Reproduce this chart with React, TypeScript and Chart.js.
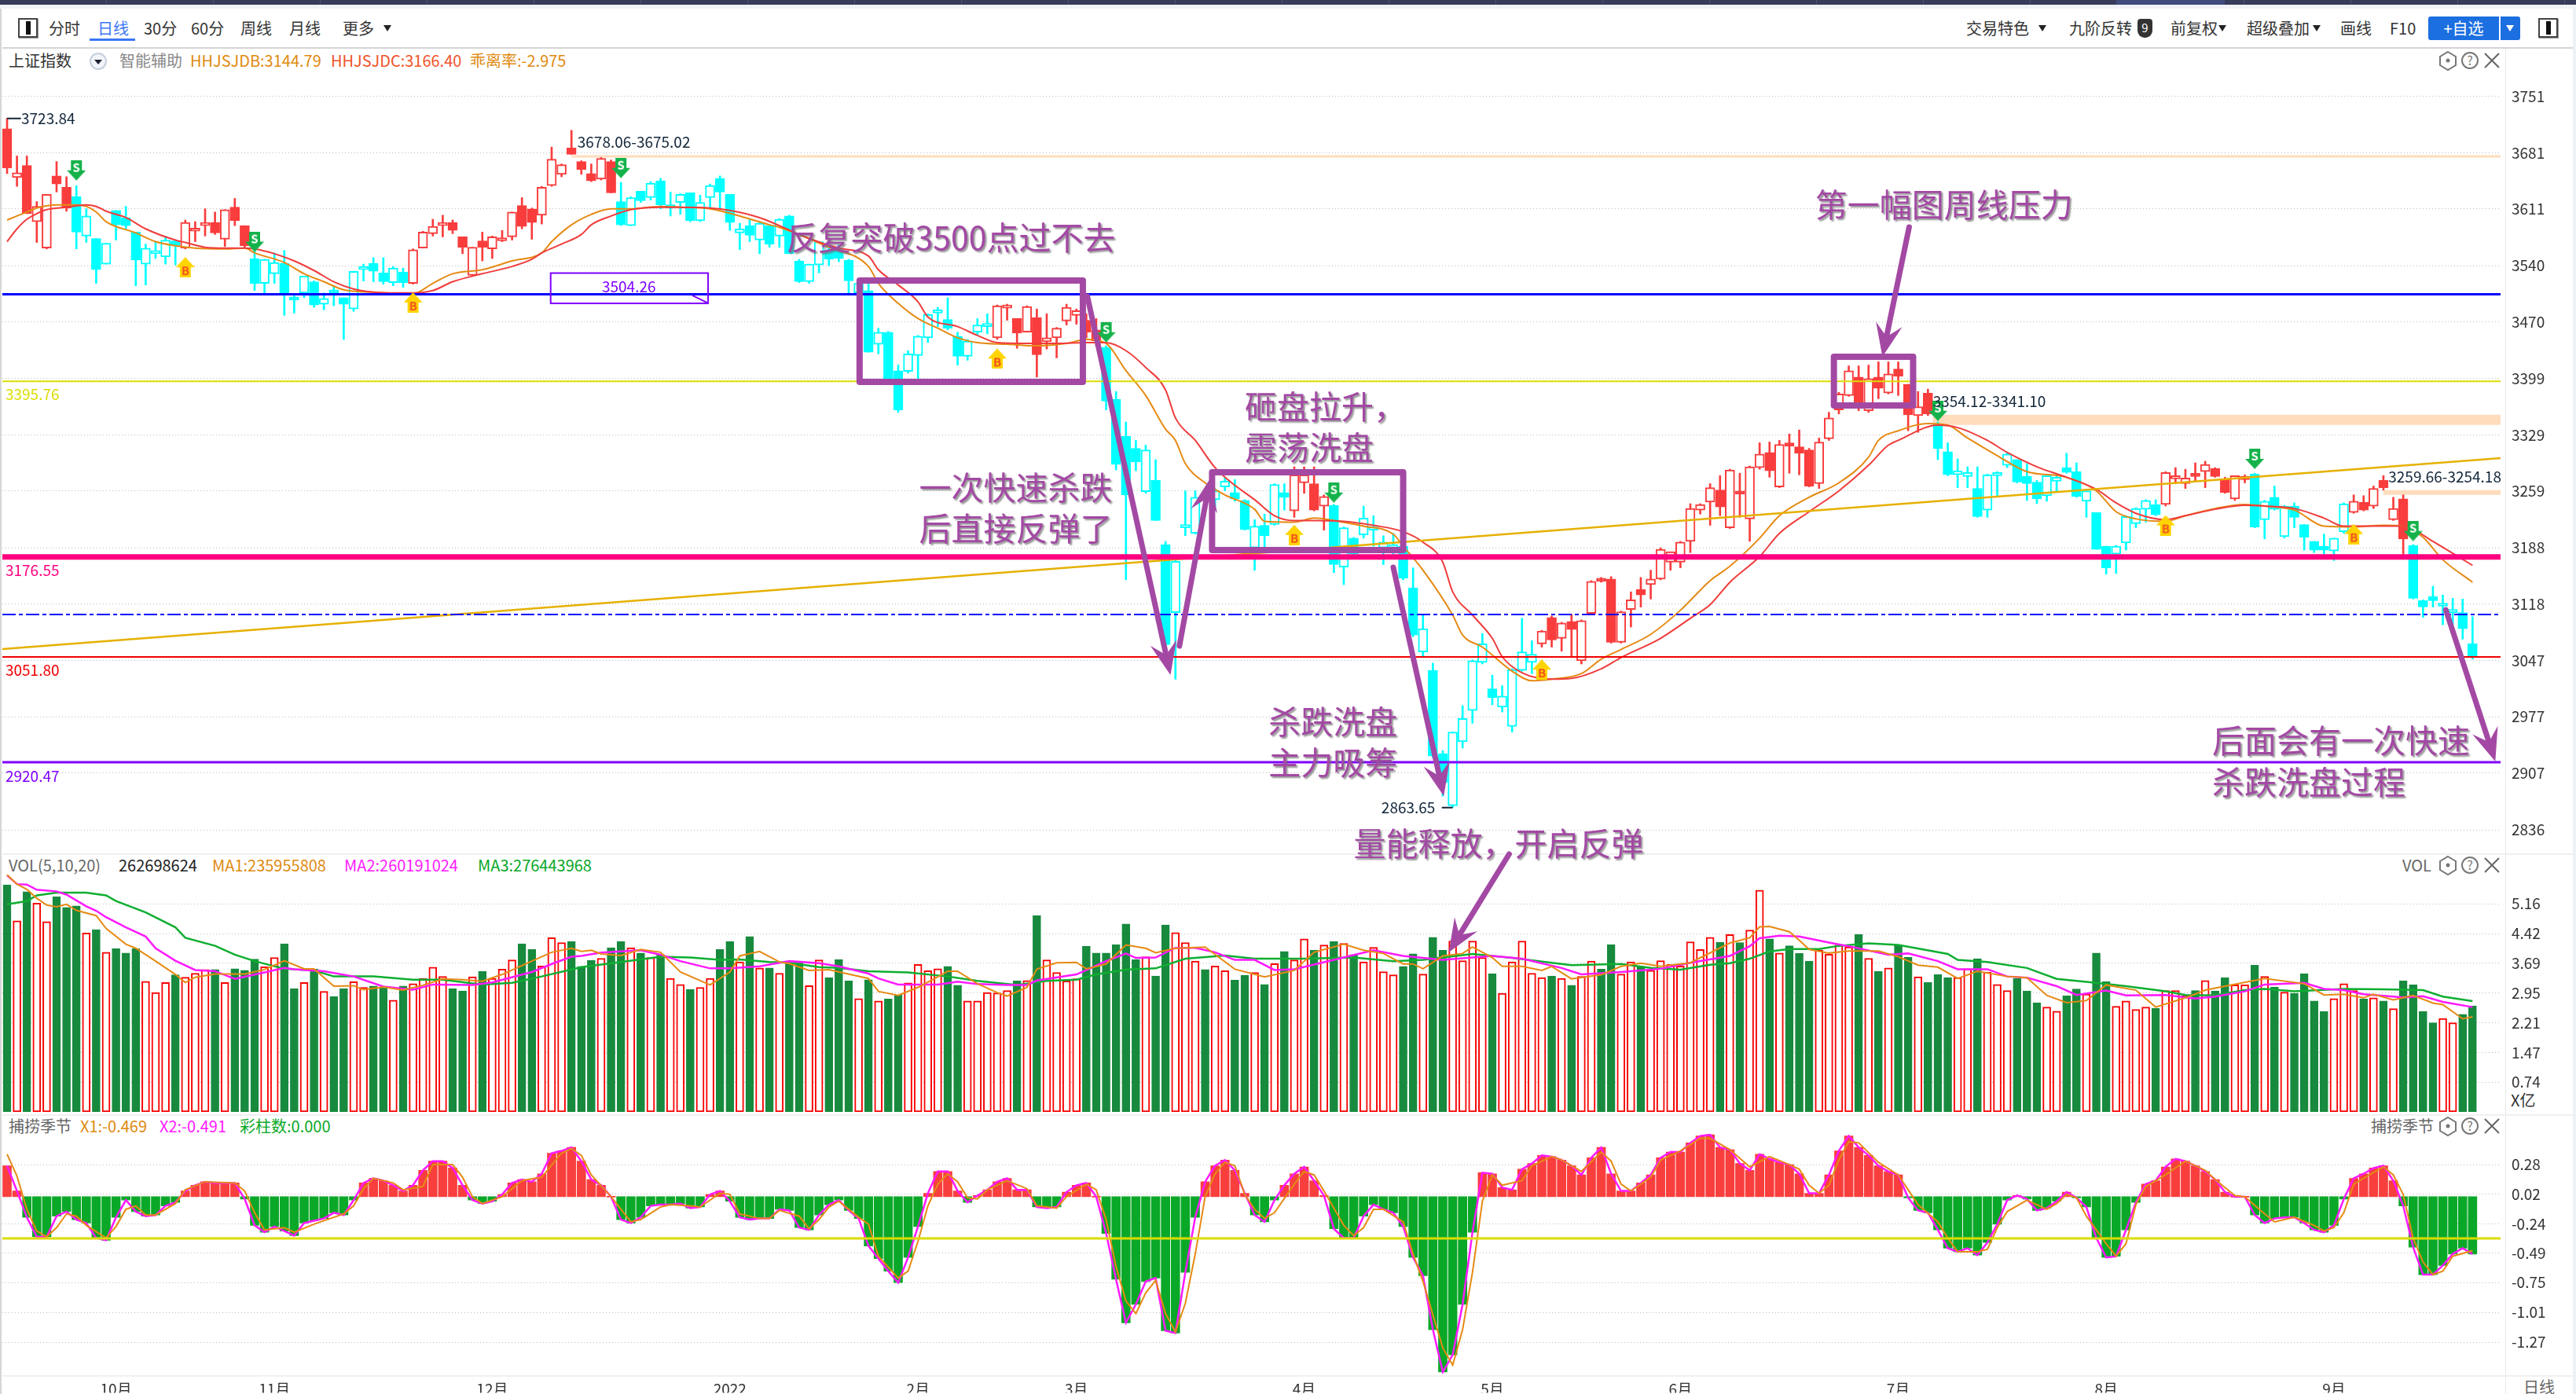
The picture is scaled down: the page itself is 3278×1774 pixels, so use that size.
import React, { useEffect, useRef } from "react";
import { Chart, registerables } from "chart.js";

Chart.register(...registerables);

// ---------- candles ----------
const opens = [
  3711,3650,3665,3595,3562,3652,3638,3626,3577,3574,
  3542,3609,3600,3582,3542,3555,3551,3571,3562,3583,
  3590,3594,3573,3613,3590,3549,3518,3530,3543,3501,
  3506,3520,3492,3507,3500,3486,3535,3543,3531,3519,
  3532,3518,3562,3580,3590,3594,3576,3528,3571,3561,
  3571,3576,3615,3611,3603,3640,3654,3687,3670,3655,
  3648,3670,3620,3590,3633,3625,3646,3612,3619,3631,
  3596,3625,3649,3629,3581,3590,3572,3590,3577,3602,
  3546,3520,3541,3560,3561,3547,3506,3509,3442,3457,
  3409,3408,3428,3450,3481,3473,3452,3427,3457,3464,
  3450,3487,3474,3457,3475,3445,3450,3471,3478,3472,
  3460,3438,3373,3327,3312,3258,3272,3192,3107,3213,
  3206,3253,3248,3264,3257,3247,3188,3216,3217,3257,
  3234,3269,3268,3240,3241,3164,3200,3204,3210,3188,
  3188,3190,3138,3058,3035,2931,2866,2946,2985,3045,
  3012,2989,2965,3035,3045,3068,3101,3075,3096,3047,
  3106,3150,3149,3070,3111,3136,3142,3149,3170,3170,
  3196,3235,3245,3260,3213,3257,3224,3288,3307,3264,
  3316,3314,3310,3268,3324,3360,3378,3401,3359,3401,
  3381,3411,3392,3353,3381,3342,3308,3279,3277,3262,
  3235,3278,3291,3298,3277,3270,3253,3271,3288,3283,
  3246,3232,3190,3180,3194,3218,3236,3242,3242,3274,
  3268,3279,3283,3287,3273,3249,3273,3280,3223,3251,
  3202,3240,3217,3196,3190,3184,3208,3232,3245,3240,
  3272,3223,3249,3191,3122,3127,3115,3107,3107,3068,
];
const closes = [
  3662,3656,3605,3614,3629,3642,3612,3582,3602,3535,
  3568,3591,3590,3547,3562,3558,3572,3565,3594,3587,
  3594,3581,3610,3596,3565,3518,3548,3544,3504,3497,
  3527,3491,3499,3506,3492,3533,3539,3533,3520,3537,
  3519,3560,3582,3589,3592,3584,3563,3563,3563,3576,
  3574,3607,3589,3594,3638,3673,3666,3679,3660,3646,
  3674,3631,3591,3625,3621,3643,3616,3616,3629,3596,
  3619,3640,3632,3594,3586,3578,3593,3567,3598,3555,
  3520,3542,3570,3548,3549,3521,3518,3432,3457,3399,
  3360,3430,3452,3479,3485,3462,3427,3446,3466,3468,
  3490,3491,3456,3489,3429,3450,3462,3488,3484,3457,
  3446,3371,3292,3254,3295,3310,3222,3067,3171,3215,
  3251,3248,3259,3271,3249,3211,3215,3203,3267,3251,
  3279,3279,3235,3252,3167,3213,3180,3225,3211,3195,
  3192,3150,3079,3087,2928,2895,2958,2975,3047,3068,
  3001,3003,3036,3058,3055,3084,3073,3094,3086,3097,
  3146,3146,3070,3108,3123,3129,3149,3186,3183,3195,
  3237,3242,3263,3239,3285,3255,3289,3305,3284,3317,
  3315,3306,3265,3320,3350,3380,3409,3362,3399,3387,
  3405,3402,3354,3364,3355,3312,3279,3284,3282,3227,
  3279,3279,3305,3270,3268,3249,3278,3276,3282,3252,
  3259,3186,3163,3190,3227,3237,3247,3229,3282,3276,
  3275,3277,3292,3277,3257,3278,3275,3214,3246,3236,
  3240,3226,3201,3185,3185,3200,3243,3246,3235,3262,
  3263,3237,3199,3125,3114,3122,3116,3108,3087,3051,
];
const highs = [
  3724,3677,3677,3620,3629,3670,3651,3640,3611,3574,
  3568,3609,3614,3582,3567,3570,3577,3571,3597,3595,
  3611,3607,3610,3624,3590,3560,3548,3556,3559,3504,
  3527,3521,3506,3514,3500,3533,3542,3550,3550,3539,
  3537,3561,3583,3598,3603,3597,3576,3563,3582,3577,
  3584,3607,3625,3612,3639,3688,3667,3709,3671,3667,
  3675,3672,3644,3626,3633,3645,3649,3632,3630,3631,
  3628,3642,3652,3629,3593,3598,3595,3590,3599,3603,
  3548,3542,3570,3565,3566,3548,3520,3518,3462,3458,
  3416,3434,3453,3480,3488,3500,3457,3448,3474,3480,
  3491,3492,3474,3490,3486,3480,3463,3492,3486,3480,
  3474,3440,3383,3345,3322,3316,3298,3196,3173,3259,
  3259,3260,3262,3276,3273,3248,3223,3230,3268,3268,
  3289,3289,3289,3254,3242,3214,3201,3240,3228,3203,
  3206,3191,3163,3104,3044,2935,2958,2991,3048,3081,
  3029,3016,3037,3100,3072,3085,3103,3095,3105,3098,
  3147,3151,3152,3109,3133,3151,3160,3188,3183,3196,
  3243,3243,3268,3278,3286,3281,3290,3319,3320,3322,
  3330,3335,3312,3325,3357,3382,3415,3415,3416,3420,
  3420,3420,3392,3383,3386,3345,3319,3299,3289,3289,
  3280,3283,3307,3298,3293,3272,3278,3278,3306,3294,
  3260,3232,3190,3191,3228,3238,3248,3248,3283,3288,
  3286,3294,3296,3288,3276,3278,3279,3281,3247,3265,
  3241,3244,3217,3196,3205,3200,3244,3254,3253,3265,
  3278,3251,3254,3192,3123,3140,3129,3125,3124,3102,
];
const lows = [
  3655,3639,3605,3569,3561,3632,3608,3561,3569,3518,
  3542,3572,3586,3515,3516,3549,3542,3541,3561,3570,
  3577,3579,3564,3590,3563,3509,3504,3518,3478,3481,
  3500,3488,3485,3490,3448,3483,3521,3520,3517,3515,
  3513,3517,3562,3577,3576,3580,3555,3527,3546,3549,
  3570,3572,3586,3573,3592,3639,3651,3679,3654,3645,
  3647,3631,3590,3590,3619,3622,3611,3602,3604,3595,
  3595,3611,3611,3584,3560,3570,3555,3563,3563,3555,
  3519,3518,3531,3540,3545,3506,3498,3432,3430,3395,
  3357,3406,3399,3444,3464,3460,3416,3422,3453,3455,
  3448,3472,3437,3457,3401,3436,3425,3466,3467,3450,
  3440,3360,3285,3148,3284,3256,3222,3061,3024,3203,
  3205,3240,3240,3259,3246,3210,3160,3188,3216,3235,
  3226,3256,3234,3210,3157,3142,3178,3200,3190,3167,
  3180,3148,3077,3051,2926,2878,2864,2938,2969,3043,
  2992,2983,2958,3034,3031,3064,3064,3059,3052,3043,
  3105,3145,3069,3069,3089,3114,3124,3148,3160,3163,
  3182,3230,3216,3228,3212,3226,3196,3286,3276,3263,
  3281,3279,3264,3262,3322,3355,3377,3359,3357,3374,
  3380,3378,3334,3332,3353,3298,3278,3263,3263,3226,
  3226,3253,3288,3269,3247,3243,3246,3259,3281,3251,
  3226,3186,3155,3156,3185,3213,3220,3228,3240,3268,
  3262,3271,3263,3276,3256,3247,3269,3213,3199,3235,
  3200,3213,3185,3182,3180,3172,3206,3231,3234,3237,
  3260,3222,3180,3124,3101,3114,3092,3092,3074,3049,
];

// trading signals: [bar index, price]
const sellSignals = [[7,3659],[25,3570],[62,3662],[111,3457],[134,3257],[195,3359],[227,3299],[243,3209]];
const buySignals = [[18,3538],[41,3494],[100,3424],[130,3204],[155,3036],[218,3216],[237,3205]];

const hhjsjdc = [[0,3570],[1,3586],[2,3598],[3,3605],[4,3610],[6,3613],[8,3616],[9,3614],[10,3608],[12,3600],[14,3586],[17,3572],[18,3569],[20,3563],[22,3562],[24,3562],[25,3561],[27,3555],[29,3546],[31,3534],[33,3520],[35,3511],[37,3507],[39,3506],[41,3506],[43,3509],[45,3520],[48,3530],[51,3539],[53,3548],[54,3556],[56,3567],[58,3579],[59,3591],[61,3602],[63,3610],[66,3613],[68,3613],[71,3612],[73,3609],[76,3600],[78,3590],[81,3574],[84,3562],[87,3552],[88,3535],[90,3516],[92,3495],[93,3476],[96,3464],[98,3453],[100,3444],[103,3443],[106,3443],[109,3444],[111,3444],[113,3434],[115,3413],[117,3385],[118,3350],[120,3322],[122,3288],[124,3266],[126,3248],[128,3228],[130,3222],[132,3222],[135,3221],[138,3216],[141,3208],[143,3195],[145,3170],[146,3133],[148,3104],[150,3075],[151,3052],[153,3032],[156,3024],[158,3025],[161,3037],[163,3051],[167,3075],[170,3100],[172,3117],[174,3145],[177,3177],[179,3206],[182,3233],[185,3259],[188,3291],[190,3316],[191,3322],[195,3341],[197,3338],[200,3322],[202,3307],[205,3289],[208,3276],[211,3261],[213,3244],[215,3231],[218,3223],[220,3228],[223,3236],[226,3241],[228,3240],[231,3237],[234,3225],[236,3215],[239,3215],[242,3215],[243,3211],[245,3196],[249,3166]];
const hhjsjdb = [[0,3597],[2,3607],[3,3612],[5,3616],[7,3616],[8,3614],[9,3607],[10,3595],[13,3581],[15,3570],[17,3565],[19,3562],[22,3561],[24,3562],[25,3556],[28,3544],[30,3530],[32,3520],[34,3510],[37,3507],[41,3505],[43,3518],[45,3530],[48,3535],[51,3546],[54,3556],[55,3570],[57,3591],[59,3604],[61,3611],[63,3611],[66,3614],[68,3613],[71,3611],[74,3602],[77,3591],[78,3588],[83,3563],[87,3539],[88,3518],[90,3493],[92,3474],[94,3462],[96,3450],[98,3444],[101,3442],[104,3440],[107,3443],[109,3448],[111,3443],[113,3409],[115,3378],[117,3336],[118,3322],[119,3293],[121,3269],[123,3254],[126,3236],[127,3221],[130,3220],[132,3225],[134,3222],[137,3215],[140,3205],[141,3190],[143,3160],[146,3104],[147,3079],[149,3064],[152,3034],[154,3022],[156,3024],[159,3031],[161,3049],[163,3061],[166,3080],[169,3110],[172,3147],[174,3165],[177,3200],[179,3228],[182,3251],[185,3269],[188,3301],[189,3322],[191,3334],[194,3343],[196,3341],[198,3325],[201,3303],[204,3283],[208,3276],[211,3259],[213,3233],[215,3224],[218,3221],[220,3228],[223,3237],[226,3242],[228,3240],[231,3235],[234,3215],[237,3214],[240,3216],[242,3215],[244,3201],[246,3173],[249,3145]];

// ---------- level lines ----------
const levelBlue = 3504.26;
const levelYellow = 3395.76;
const levelPink = 3176.55;
const levelDash = 3104.7;
const levelRed = 3051.8;
const levelPurple = 2920.47;
const trendLine = [[-0.476,3061.6],[251.83,3300]];
const bandTop = [[57,3676.5],[251.83,3676.5]];
const bandMid = [[194.5,3347.6],[251.83,3347.6]];
const bandLow = [[240,3256.9],[251.83,3256.9]];

// ---------- volume (亿) ----------
const volumes = [
  5.63,4.74,5.46,5.18,4.72,5.34,5.07,5.11,4.44,4.52,
  3.96,4.05,3.94,4.05,3.24,2.96,3.21,3.40,3.34,3.44,
  3.53,3.53,3.21,3.55,3.51,3.79,3.60,3.83,4.17,3.06,
  3.21,3.54,2.99,2.86,3.06,3.23,3.09,3.12,3.09,2.77,
  3.12,3.18,3.31,3.59,3.36,3.06,3.00,3.35,3.49,3.31,
  3.54,3.77,4.17,4.03,3.62,4.32,4.20,4.23,3.61,3.76,
  3.81,4.07,4.23,4.07,3.94,3.83,3.90,3.31,3.16,3.04,
  3.09,3.31,4.03,4.23,3.72,4.35,3.57,3.57,3.44,3.70,
  3.74,3.13,3.77,3.33,3.78,3.25,2.81,3.28,2.75,2.80,
  2.90,3.20,3.66,3.50,3.55,3.61,3.14,2.75,2.75,2.96,
  2.95,3.01,3.25,3.26,4.87,3.77,3.46,3.25,3.30,4.11,
  3.94,3.94,4.15,4.66,3.78,3.85,3.37,4.64,4.45,4.20,
  3.74,3.53,3.62,3.50,3.27,3.39,3.46,3.16,3.68,3.98,
  3.77,4.29,4.01,4.14,4.23,4.18,3.90,3.72,4.08,3.48,
  3.40,3.61,3.92,3.42,4.33,4.01,4.24,3.75,4.24,3.83,
  3.43,2.94,3.72,4.24,3.44,3.33,3.37,3.31,3.14,3.36,
  3.74,3.54,4.15,3.42,3.72,3.61,3.51,3.75,3.66,3.62,
  4.22,4.03,4.33,4.21,4.40,4.20,4.51,5.50,4.29,3.94,
  4.12,3.93,3.74,4.01,3.91,4.14,4.09,4.40,3.81,3.49,
  3.57,4.14,3.84,3.35,3.21,3.41,3.33,3.33,3.55,3.80,
  3.47,3.16,3.01,3.31,3.00,2.71,2.60,2.50,2.88,3.05,
  2.92,3.94,3.23,2.62,2.75,2.54,2.60,2.57,3.01,3.01,
  2.88,3.01,3.26,3.00,3.33,3.15,3.15,3.64,3.36,3.10,
  2.97,2.94,3.43,2.75,2.49,2.81,3.18,3.01,2.80,2.83,
  2.75,2.56,3.25,3.15,2.49,2.21,2.32,2.21,2.42,2.63,
];
const volMa1 = [[0,5.88],[1,5.65],[2,5.52],[3,5.30],[4,5.13],[5,5.09],[6,5.15],[7,5.00],[9,4.87],[10,4.55],[12,4.16],[13,4.06],[15,3.74],[17,3.41],[18,3.21],[19,3.34],[21,3.42],[24,3.42],[26,3.53],[28,3.75],[30,3.55],[31,3.55],[33,3.12],[35,3.13],[36,3.03],[38,3.10],[40,3.02],[42,3.14],[44,3.30],[46,3.28],[48,3.24],[50,3.41],[53,3.74],[55,3.96],[57,4.06],[58,3.98],[59,4.01],[60,3.92],[62,3.88],[64,4.03],[66,3.96],[68,3.47],[71,3.15],[73,3.47],[74,3.87],[76,3.98],[78,3.72],[79,3.68],[81,3.51],[83,3.53],[87,3.31],[88,2.99],[90,2.89],[92,3.09],[94,3.35],[95,3.49],[96,3.49],[98,3.18],[100,2.96],[101,2.87],[103,3.09],[104,3.54],[106,3.70],[108,3.71],[109,3.55],[111,3.67],[113,4.14],[115,4.06],[116,3.95],[118,4.06],[121,4.09],[124,3.54],[127,3.35],[130,3.51],[132,3.96],[135,4.16],[137,4.01],[139,3.93],[141,3.67],[142,3.67],[143,3.55],[145,3.87],[147,3.93],[148,4.09],[150,3.83],[151,3.61],[153,3.61],[155,3.51],[156,3.61],[158,3.30],[161,3.40],[163,3.61],[165,3.69],[167,3.61],[170,3.70],[174,4.19],[176,4.32],[177,4.59],[178,4.60],[180,4.47],[181,4.26],[182,4.03],[184,3.94],[186,3.99],[189,3.99],[191,3.85],[193,3.64],[195,3.59],[197,3.31],[199,3.49],[202,3.36],[204,3.33],[206,2.89],[208,2.71],[210,2.76],[212,3.15],[215,3.02],[217,2.60],[220,2.83],[222,3.02],[224,3.12],[228,3.31],[232,3.18],[234,2.90],[236,2.92],[238,2.83],[239,2.92],[241,2.78],[243,2.89],[245,2.70],[246,2.66],[248,2.31],[249,2.36]];
const volMa2 = [[0,5.87],[1,5.65],[2,5.64],[3,5.51],[5,5.47],[6,5.39],[8,5.10],[9,4.99],[10,4.83],[12,4.58],[14,4.35],[15,4.06],[17,3.75],[19,3.52],[21,3.49],[23,3.30],[26,3.46],[28,3.57],[29,3.54],[32,3.49],[35,3.36],[38,3.11],[41,3.03],[43,3.16],[47,3.15],[49,3.21],[53,3.47],[55,3.67],[57,3.85],[58,3.87],[60,3.95],[64,4.01],[66,3.90],[68,3.74],[71,3.56],[73,3.56],[76,3.61],[79,3.74],[82,3.69],[84,3.61],[87,3.43],[88,3.31],[90,3.16],[94,3.16],[96,3.23],[98,3.17],[101,3.15],[103,3.15],[104,3.26],[108,3.41],[111,3.74],[113,3.93],[114,3.82],[116,3.83],[118,4.07],[120,4.07],[122,3.96],[124,3.77],[126,3.77],[128,3.52],[130,3.54],[134,3.77],[138,4.01],[141,3.87],[145,3.77],[150,3.87],[153,3.80],[157,3.57],[159,3.41],[163,3.47],[167,3.55],[170,3.70],[174,3.87],[176,4.11],[177,4.31],[179,4.37],[181,4.35],[184,4.20],[186,4.11],[190,3.90],[192,3.93],[195,3.74],[197,3.54],[200,3.54],[202,3.36],[204,3.33],[207,3.12],[209,2.90],[212,3.01],[214,2.89],[218,2.90],[221,2.81],[223,2.86],[226,2.99],[228,3.16],[232,3.20],[234,3.05],[236,3.02],[238,2.92],[242,2.84],[244,2.87],[246,2.73],[249,2.60]];
const volMa3 = [[0,5.15],[2,5.23],[3,5.37],[5,5.44],[8,5.44],[10,5.37],[11,5.23],[14,4.95],[17,4.58],[18,4.32],[21,4.12],[23,3.90],[25,3.74],[28,3.55],[31,3.51],[33,3.36],[37,3.36],[41,3.28],[44,3.28],[48,3.16],[51,3.20],[54,3.36],[58,3.59],[62,3.72],[66,3.85],[69,3.83],[72,3.77],[74,3.78],[77,3.72],[79,3.70],[82,3.59],[84,3.57],[87,3.49],[91,3.46],[95,3.36],[98,3.25],[102,3.15],[105,3.25],[108,3.28],[110,3.41],[113,3.53],[116,3.56],[119,3.80],[123,3.88],[126,3.80],[131,3.80],[136,3.83],[140,3.74],[143,3.77],[148,3.92],[152,3.82],[156,3.70],[158,3.64],[163,3.67],[166,3.57],[169,3.53],[172,3.65],[174,3.69],[176,3.80],[178,3.98],[180,4.04],[183,4.04],[185,4.12],[188,4.18],[191,4.14],[196,3.92],[197,3.77],[200,3.72],[204,3.57],[207,3.30],[211,3.20],[214,3.12],[218,2.99],[220,2.90],[223,2.89],[226,3.02],[228,3.05],[231,2.99],[236,3.05],[240,3.04],[244,3.02],[246,2.86],[249,2.75]];

// ---------- 捕捞季节 ----------
const x2Values = [
  0.27,0.05,-0.18,-0.35,-0.35,-0.17,-0.13,-0.20,-0.23,-0.36,
  -0.38,-0.18,-0.03,-0.13,-0.17,-0.16,-0.08,-0.05,0.05,0.10,
  0.13,0.12,0.12,0.12,-0.02,-0.25,-0.31,-0.26,-0.30,-0.34,
  -0.23,-0.21,-0.19,-0.14,-0.16,-0.03,0.12,0.16,0.14,0.10,
  0.05,0.10,0.23,0.31,0.31,0.25,0.10,-0.03,-0.06,-0.04,
  0.02,0.12,0.15,0.13,0.20,0.38,0.40,0.43,0.31,0.15,
  0.10,0.00,-0.20,-0.23,-0.18,-0.08,-0.07,-0.07,-0.06,-0.10,
  -0.09,0.02,0.05,-0.04,-0.18,-0.20,-0.19,-0.19,-0.11,-0.12,
  -0.27,-0.29,-0.16,-0.07,-0.03,-0.12,-0.19,-0.43,-0.54,-0.65,
  -0.75,-0.53,-0.26,0.03,0.22,0.22,0.05,-0.05,0.01,0.06,
  0.13,0.16,0.06,0.06,-0.09,-0.10,-0.09,0.04,0.10,0.12,
  0.00,-0.32,-0.72,-1.10,-0.94,-0.74,-0.71,-1.17,-1.19,-0.66,
  -0.18,0.13,0.27,0.32,0.23,0.03,-0.16,-0.22,-0.03,0.10,
  0.20,0.26,0.14,0.01,-0.28,-0.36,-0.36,-0.17,-0.07,-0.11,
  -0.14,-0.26,-0.53,-0.69,-1.16,-1.53,-1.38,-0.94,-0.31,0.21,
  0.20,0.08,0.06,0.24,0.29,0.36,0.35,0.32,0.27,0.19,
  0.34,0.43,0.20,0.05,0.05,0.12,0.19,0.34,0.39,0.39,
  0.47,0.53,0.54,0.43,0.41,0.29,0.23,0.37,0.33,0.30,
  0.28,0.20,0.03,0.03,0.19,0.40,0.53,0.43,0.36,0.27,
  0.22,0.19,-0.01,-0.12,-0.14,-0.29,-0.45,-0.48,-0.45,-0.51,
  -0.40,-0.24,-0.03,0.01,-0.02,-0.12,-0.10,-0.04,0.04,-0.01,
  -0.09,-0.36,-0.53,-0.52,-0.29,-0.05,0.11,0.14,0.26,0.33,
  0.31,0.27,0.22,0.15,0.04,0.00,0.00,-0.16,-0.23,-0.19,
  -0.18,-0.18,-0.23,-0.29,-0.31,-0.25,-0.02,0.16,0.20,0.25,
  0.27,0.14,-0.08,-0.44,-0.68,-0.68,-0.60,-0.50,-0.45,-0.50,
];
const x1Line = [[0,0.37],[1,0.18],[2,-0.11],[3,-0.30],[4,-0.35],[5,-0.27],[6,-0.15],[7,-0.17],[8,-0.25],[10,-0.36],[11,-0.26],[12,-0.11],[13,-0.08],[14,-0.16],[15,-0.16],[17,-0.06],[18,0.06],[20,0.13],[23,0.12],[24,0.05],[25,-0.14],[26,-0.29],[28,-0.27],[29,-0.31],[31,-0.24],[33,-0.18],[34,-0.15],[35,-0.08],[36,0.07],[37,0.16],[39,0.12],[40,0.06],[42,0.09],[43,0.28],[45,0.28],[46,0.17],[47,0.00],[48,-0.06],[50,0.00],[52,0.14],[54,0.17],[56,0.38],[57,0.42],[58,0.36],[59,0.19],[61,0.00],[63,-0.22],[64,-0.20],[66,-0.09],[67,-0.07],[69,-0.08],[70,-0.09],[72,0.03],[73,0.02],[74,-0.15],[76,-0.19],[77,-0.19],[78,-0.12],[80,-0.17],[81,-0.28],[82,-0.20],[83,-0.09],[84,-0.04],[86,-0.18],[87,-0.24],[88,-0.52],[90,-0.71],[91,-0.65],[92,-0.39],[93,-0.08],[94,0.11],[95,0.20],[96,0.13],[97,-0.01],[98,-0.02],[99,0.06],[101,0.14],[103,0.07],[104,-0.08],[106,-0.10],[107,0.00],[109,0.11],[110,0.06],[111,-0.20],[112,-0.61],[113,-0.91],[114,-1.02],[115,-0.84],[116,-0.73],[117,-1.02],[118,-1.18],[119,-0.93],[120,-0.50],[121,0.00],[122,0.20],[123,0.30],[124,0.27],[125,0.02],[126,-0.11],[127,-0.19],[128,-0.14],[130,0.11],[131,0.22],[132,0.19],[133,0.05],[135,-0.25],[136,-0.34],[137,-0.27],[138,-0.11],[139,-0.11],[141,-0.22],[142,-0.50],[143,-0.74],[145,-1.32],[146,-1.47],[147,-1.16],[148,-0.66],[149,-0.04],[150,0.19],[151,0.10],[153,0.14],[154,0.27],[156,0.35],[157,0.32],[159,0.22],[161,0.39],[162,0.31],[163,0.11],[164,0.05],[166,0.17],[167,0.32],[169,0.40],[171,0.51],[172,0.51],[174,0.41],[176,0.26],[178,0.35],[180,0.28],[181,0.24],[182,0.10],[183,0.03],[184,0.10],[185,0.32],[186,0.48],[187,0.47],[189,0.30],[191,0.19],[192,0.06],[193,-0.07],[195,-0.22],[196,-0.36],[197,-0.48],[199,-0.48],[200,-0.46],[201,-0.27],[202,-0.13],[204,-0.03],[206,-0.11],[207,-0.06],[208,0.02],[209,-0.01],[210,-0.17],[212,-0.41],[213,-0.52],[214,-0.41],[215,-0.07],[216,0.09],[218,0.19],[220,0.31],[222,0.23],[223,0.15],[225,0.01],[226,0.00],[228,-0.15],[229,-0.22],[231,-0.18],[233,-0.25],[234,-0.30],[235,-0.27],[236,-0.14],[237,0.11],[240,0.26],[241,0.19],[242,0.02],[243,-0.36],[244,-0.57],[245,-0.68],[246,-0.65],[247,-0.52],[249,-0.47]];
const macdGuide = -0.364;

// ---------- ticks ----------
const priceTicks = [3751,3681,3611,3540,3470,3399,3329,3259,3188,3118,3047,2977,2907,2836];
const volTicks = [5.16,4.42,3.69,2.95,2.21,1.47,0.74];
const macdTicks = [0.28,0.02,-0.24,-0.49,-0.75,-1.01,-1.27];
const monthTicks = [[11,"10月"],[27,"11月"],[49,"12月"],[73,"2022"],[92,"2月"],[108,"3月"],[131,"4月"],[150,"5月"],[169,"6月"],[191,"7月"],[212,"8月"],[235,"9月"]];

// ---------- drawn annotations, anchored in [bar index, price] ----------
const noteBoxes = [[86.1,3521.5,108.65,3395],[121.7,3282.2,141,3185.1],[184.5,3426.4,192.5,3365.6]];
const noteArrows = [
  [109.1,3501.9,117.5,3029.2],
  [118.4,3065.5,121.5,3274.4],
  [140,3163.6,145.1,2878.2],
  [192.1,3588.2,189.4,3426.4],
  [151.7,2805.6,145.6,2683],
  [246.3,3110.6,251.3,2921.3],
];
const noteTexts = [
  ["反复突破3500点过不去",78.7,3575.4],
  ["第一幅图周线压力",182.6,3616.6],
  ["砸盘拉升，",125,3364.6],
  ["震荡洗盘",125,3313.6],
  ["一次快速杀跌",92.1,3263.6],
  ["后直接反弹了",92.1,3212.6],
  ["杀跌洗盘",127.4,2971.3],
  ["主力吸筹",127.4,2920.3],
  ["量能释放，开启反弹",136,2819.3],
  ["后面会有一次快速",222.7,2947.8],
  ["杀跌洗盘过程",222.7,2895.8],
];
const priceNotes = [
  ["3723.84",1.43,3723.84],
  ["3678.06-3675.02",57.6,3694],
  ["3354.12-3341.10",194.5,3370.5],
  ["3259.66-3254.18",240.5,3276.3],
  ["2863.65",138.8,2863.65],
];
const levelNotes = [
  ["3395.76",-0.16,3379.3,"#dcdc00"],
  ["3176.55",-0.16,3159.6,"#ff0080"],
  ["3051.80",-0.16,3035,"#f00000"],
  ["2920.47",-0.16,2902.7,"#8000ff"],
];

const FONT = '"Noto Sans CJK SC","Noto Sans",sans-serif';
const W = 3278;
const H = 1774;
const X_MIN = -0.476;
const X_MAX = 251.83;
const CANDLE_RED = "#f93c3c";
const CANDLE_CYAN = "#00ffff";
const PURPLE = "#a349a4";

const isRedAt = (i: number) => {
  let red = true;
  for (let k = 0; k <= i; k++) {
    if (sellSignals.some((s) => s[0] === k)) red = false;
    if (buySignals.some((s) => s[0] === k)) red = true;
  }
  return red;
};

const pairs = (rows: number[][]) => rows.map(([x, y]) => ({ x, y }));
const flat = (v: number) => [{ x: X_MIN, y: v }, { x: X_MAX, y: v }];

const xAxis = (display: boolean) => ({
  type: "linear",
  min: X_MIN,
  max: X_MAX,
  bounds: "data",
  offset: false,
  display,
  grid: { display: false, offset: false },
  border: { display: false },
  afterFit: (s: any) => { s.height = display ? 24 : 0; },
  afterBuildTicks: (s: any) => { s.ticks = monthTicks.map((m) => ({ value: m[0] })); },
  ticks: {
    autoSkip: false,
    maxRotation: 0,
    padding: 0,
    color: "#333",
    font: { family: FONT, size: 19 },
    callback: (v: number) => {
      const t = monthTicks.find((m) => m[0] === v);
      return t ? t[1] : "";
    },
  },
});

const yAxis = (min: number, max: number, ticks: number[], digits: number) => ({
  type: "linear",
  position: "right",
  min,
  max,
  bounds: "data",
  border: { display: false, dash: [1, 3] },
  grid: { color: "#bdbdbd", lineWidth: 1, drawTicks: false },
  afterFit: (s: any) => { s.width = 96; },
  afterBuildTicks: (s: any) => { s.ticks = ticks.map((value) => ({ value })); },
  ticks: {
    autoSkip: false,
    padding: 14,
    color: "#333",
    font: { family: FONT, size: 19 },
    callback: (v: number) => v.toFixed(digits),
  },
});

const baseOptions = (padding: any, scales: any) => ({
  responsive: false,
  animation: false,
  events: [],
  layout: { padding, autoPadding: false },
  plugins: { legend: { display: false }, tooltip: { enabled: false } },
  scales,
});

const makeSprite = (sell: boolean) => {
  const c = document.createElement("canvas");
  c.width = 24;
  c.height = 26;
  const g = c.getContext("2d") as CanvasRenderingContext2D;
  const pts = sell
    ? [[5,0],[19,0],[19,13],[24,13],[12,26],[0,13],[5,13]]
    : [[12,0],[24,13],[19,13],[19,26],[5,26],[5,13],[0,13]];
  g.fillStyle = sell ? "#14b24a" : "#ffd400";
  g.beginPath();
  pts.forEach(([x, y], i) => (i ? g.lineTo(x, y) : g.moveTo(x, y)));
  g.closePath();
  g.fill();
  g.fillStyle = sell ? "#ffffff" : "#f4511e";
  g.font = `bold 15px ${FONT}`;
  g.textAlign = "center";
  g.textBaseline = "middle";
  g.fillText(sell ? "S" : "B", 12, sell ? 9 : 17);
  return c;
};

const drawArrow = (ctx: CanvasRenderingContext2D, x0: number, y0: number, x1: number, y1: number) => {
  const a = Math.atan2(y1 - y0, x1 - x0);
  const len = 42;
  const half = 17;
  const neck = 26;
  const ux = Math.cos(a);
  const uy = Math.sin(a);
  ctx.strokeStyle = PURPLE;
  ctx.fillStyle = PURPLE;
  ctx.lineWidth = 7;
  ctx.lineCap = "round";
  ctx.beginPath();
  ctx.moveTo(x0, y0);
  ctx.lineTo(x1 - ux * neck, y1 - uy * neck);
  ctx.stroke();
  ctx.beginPath();
  ctx.moveTo(x1, y1);
  ctx.lineTo(x1 - ux * len - uy * half, y1 - uy * len + ux * half);
  ctx.lineTo(x1 - ux * neck, y1 - uy * neck);
  ctx.lineTo(x1 - ux * len + uy * half, y1 - uy * len - ux * half);
  ctx.closePath();
  ctx.fill();
};

const annotationPlugin = {
  id: "notes",
  afterDraw(chart: any) {
    const { ctx, scales } = chart;
    const px = (v: number) => scales.x.getPixelForValue(v);
    const py = (v: number) => scales.y.getPixelForValue(v);
    ctx.save();
    // price box
    ctx.strokeStyle = "#7f00ff";
    ctx.lineWidth = 2;
    ctx.strokeRect(px(54.9), py(3530.8), px(70.8) - px(54.9), py(3493) - py(3530.8));
    ctx.beginPath();
    ctx.moveTo(px(69.2), py(3503));
    ctx.lineTo(px(70.7), py(3494));
    ctx.stroke();
    ctx.fillStyle = "#7f00ff";
    ctx.font = `19px ${FONT}`;
    ctx.textAlign = "center";
    ctx.textBaseline = "middle";
    ctx.fillText("3504.26", px(62.8), py(3513.6));
    // level captions
    ctx.textAlign = "left";
    levelNotes.forEach(([t, x, y, c]: any) => {
      ctx.fillStyle = c;
      ctx.fillText(t, px(x), py(y));
    });
    // price notes
    ctx.fillStyle = "#12263a";
    priceNotes.forEach(([t, x, y]: any) => ctx.fillText(t, px(x), py(y)));
    ctx.strokeStyle = "#12263a";
    ctx.lineWidth = 2;
    ctx.beginPath();
    ctx.moveTo(px(0), py(3723.84));
    ctx.lineTo(px(1.4), py(3723.84));
    ctx.moveTo(px(144.9), py(2863.65));
    ctx.lineTo(px(146), py(2863.65));
    ctx.stroke();
    // hand-drawn boxes and arrows
    ctx.strokeStyle = PURPLE;
    ctx.lineWidth = 8;
    ctx.lineJoin = "round";
    noteBoxes.forEach(([a, b, c, d]) => ctx.strokeRect(px(a), py(b), px(c) - px(a), py(d) - py(b)));
    noteArrows.forEach(([a, b, c, d]) => drawArrow(ctx, px(a), py(b), px(c), py(d)));
    // hand-written notes
    ctx.font = `41px ${FONT}`;
    ctx.fillStyle = PURPLE;
    ctx.shadowColor = "rgba(110,110,110,0.75)";
    ctx.shadowBlur = 2;
    ctx.shadowOffsetX = 2;
    ctx.shadowOffsetY = 2;
    noteTexts.forEach(([t, x, y]: any) => ctx.fillText(t, px(x), py(y)));
    ctx.restore();
  },
};

function Txt({ x, y, c = "#333", s = 20, children }: any) {
  return (
    <span
      style={{
        position: "absolute",
        left: x,
        top: y,
        transform: "translateY(-50%)",
        color: c,
        fontSize: s,
        fontFamily: FONT,
        whiteSpace: "nowrap",
        lineHeight: 1,
      }}
    >
      {children}
    </span>
  );
}

function Caret({ x, y, c = "#222" }: any) {
  return (
    <div
      style={{
        position: "absolute",
        left: x,
        top: y,
        width: 0,
        height: 0,
        borderLeft: "5px solid transparent",
        borderRight: "5px solid transparent",
        borderTop: `8px solid ${c}`,
      }}
    />
  );
}

function Toggle({ x }: any) {
  return (
    <div style={{ position: "absolute", left: x, top: 23, width: 25, height: 25, boxSizing: "border-box", border: "2px solid #444", boxShadow: "1px 1px 0 #999" }}>
      <div style={{ position: "absolute", left: 8, top: 2, width: 6, height: 17, background: "#111" }} />
    </div>
  );
}

function PanelIcons({ y }: any) {
  return (
    <svg style={{ position: "absolute", left: 3100, top: y - 13, overflow: "visible" }} width={84} height={26}>
      <polygon points="15,2 25,8 25,19 15,25 5,19 5,8" fill="none" stroke="#777" strokeWidth="2" />
      <circle cx="15" cy="13" r="2.5" fill="#777" />
      <circle cx="43" cy="13" r="10" fill="none" stroke="#777" strokeWidth="2" />
      <text x="43" y="19" fontSize="16" fontFamily={FONT} textAnchor="middle" fill="#777">?</text>
      <path d="M62 4 L80 22 M80 4 L62 22" stroke="#666" strokeWidth="2" />
    </svg>
  );
}

const Rule = ({ x, y, w, h, c }: any) => (
  <div style={{ position: "absolute", left: x, top: y, width: w, height: h, background: c }} />
);

export default function App() {
  const mainRef = useRef<HTMLCanvasElement>(null);
  const volRef = useRef<HTMLCanvasElement>(null);
  const macdRef = useRef<HTMLCanvasElement>(null);

  useEffect(() => {
    const idx = opens.map((_, i) => i);
    const sellSprite = makeSprite(true);
    const buySprite = makeSprite(false);
    const tone = idx.map((i) => (isRedAt(i) ? CANDLE_RED : CANDLE_CYAN));
    const up = idx.map((i) => closes[i] >= opens[i]);

    const lineDs = (data: any[], color: string, width: number, order: number, extra: any = {}) => ({
      type: "line",
      data,
      borderColor: color,
      backgroundColor: color,
      borderWidth: width,
      pointRadius: 0,
      order,
      ...extra,
    });

    const main = new Chart(mainRef.current as any, {
      type: "bar",
      data: {
        datasets: [
          { type: "line", data: pairs(sellSignals), showLine: false, pointStyle: sellSprite, pointRadius: 12, order: 0, clip: false },
          { type: "line", data: pairs(buySignals), showLine: false, pointStyle: buySprite, pointRadius: 12, order: 0, clip: false },
          lineDs(flat(levelPink), "#ff0080", 7, 1),
          lineDs(flat(levelBlue), "#0000ff", 3, 1),
          lineDs(flat(levelYellow), "#dcdc00", 2, 1),
          lineDs(flat(levelRed), "#f00000", 2, 1),
          lineDs(flat(levelPurple), "#8000ff", 3, 1),
          lineDs(flat(levelDash), "#0000ff", 2, 1, { borderDash: [17, 4, 5, 4] }),
          lineDs(pairs(trendLine), "#e6b000", 2.5, 1),
          lineDs(pairs(hhjsjdc), "#f03c3c", 2, 2, { cubicInterpolationMode: "monotone" }),
          lineDs(pairs(hhjsjdb), "#e68a14", 2, 3, { cubicInterpolationMode: "monotone" }),
          {
            data: idx.map((i) => ({ x: i, y: [Math.min(opens[i], closes[i]), Math.max(opens[i], closes[i])] })),
            grouped: false,
            barThickness: 12,
            minBarLength: 4,
            borderSkipped: false,
            borderWidth: 2,
            borderColor: tone,
            backgroundColor: idx.map((i) => (up[i] ? "#ffffff" : tone[i])),
            order: 4,
          },
          {
            data: idx.map((i) => ({ x: i, y: [lows[i], highs[i]] })),
            grouped: false,
            barThickness: 2,
            backgroundColor: tone,
            order: 5,
          },
          lineDs(pairs(bandTop), "#ffdcbc", 3, 6),
          lineDs(pairs(bandMid), "#ffdcbc", 13, 6),
          lineDs(pairs(bandLow), "#ffdcbc", 6, 6),
        ],
      },
      options: baseOptions(
        { left: 3, top: 62, bottom: H - 1086, right: 0 },
        { x: xAxis(false), y: yAxis(2806.6, 3810.8, priceTicks, 0) }
      ),
      plugins: [annotationPlugin],
    } as any);

    const vol = new Chart(volRef.current as any, {
      type: "bar",
      data: {
        datasets: [
          lineDs(pairs(volMa1), "#e68a14", 2, 0),
          lineDs(pairs(volMa2), "#ff19ff", 2.5, 1),
          lineDs(pairs(volMa3), "#0fae32", 2.5, 2),
          {
            data: idx.map((i) => ({ x: i, y: volumes[i] })),
            grouped: false,
            barThickness: 10,
            borderSkipped: false,
            borderWidth: 2,
            borderColor: idx.map((i) => (up[i] ? "#f80000" : "#178a3e")),
            backgroundColor: idx.map((i) => (up[i] ? "#ffffff" : "#178a3e")),
            order: 3,
          },
        ],
      },
      options: baseOptions(
        { left: 3, top: 1088, bottom: H - 1415, right: 0 },
        { x: xAxis(false), y: yAxis(0, 6.374, volTicks, 2) }
      ),
    } as any);

    const macd = new Chart(macdRef.current as any, {
      type: "bar",
      data: {
        datasets: [
          lineDs(flat(macdGuide), "#dcdc00", 3, 0),
          lineDs(pairs(x1Line), "#e68a14", 2, 1),
          lineDs(x2Values.map((y, x) => ({ x, y })), "#ff19ff", 2.5, 2),
          {
            data: idx.map((i) => ({ x: i, y: [0, x2Values[i]] })),
            grouped: false,
            barThickness: 11,
            minBarLength: 1,
            backgroundColor: idx.map((i) => (x2Values[i] >= 0 ? "#f93e3e" : "#0aa828")),
            order: 3,
          },
        ],
      },
      options: baseOptions(
        { left: 3, top: 1420, bottom: 0, right: 0 },
        { x: xAxis(true), y: yAxis(-1.5477, 0.7056, macdTicks, 2) }
      ),
    } as any);

    return () => {
      main.destroy();
      vol.destroy();
      macd.destroy();
    };
  }, []);

  const canvasStyle: any = { position: "absolute", left: 0, top: 0, display: "block" };

  return (
    <div style={{ position: "fixed", left: 0, top: 0, width: W, height: H, overflow: "hidden", background: "#fff" }}>
      {/* browser strip */}
      <div style={{ position: "absolute", left: 0, top: 0, width: W, height: 6, background: "repeating-linear-gradient(90deg,#363c5a 0,#363c5a 135px,#4a5070 135px,#4a5070 136px)" }} />
      <Rule x={2693} y={0} w={138} h={6} c="#414b7c" />
      <Rule x={0} y={6} w={W} h={5} c="#f1f3f7" />
      <Rule x={0} y={11} w={2} h={H - 11} c="#d6d6d6" />
      <Rule x={3} y={60} w={3271} h={2} c="#d4d4d4" />
      <Rule x={3188} y={62} w={1} h={H - 62} c="#e8e8e8" />
      <Rule x={3} y={1086} w={W - 3} h={2} c="#f0f0f0" />
      <Rule x={3} y={1418} w={W - 3} h={2} c="#f0f0f0" />
      <Rule x={3} y={1750} w={W - 3} h={2} c="#f0f0f0" />
      <Rule x={3274} y={11} w={4} h={H - 11} c="#eef1f6" />

      <canvas ref={macdRef} width={W} height={H} style={{ ...canvasStyle, zIndex: 1 }} />
      <canvas ref={volRef} width={W} height={H} style={{ ...canvasStyle, zIndex: 2 }} />
      <canvas ref={mainRef} width={W} height={H} style={{ ...canvasStyle, zIndex: 3, pointerEvents: "none" }} />

      {/* toolbar */}
      <Toggle x={23} />
      <Txt x={62} y={36}>分时</Txt>
      <Txt x={124} y={36} c="#3b76f6">日线</Txt>
      <Rule x={114} y={49} w={58} h={3} c="#3b76f6" />
      <Txt x={183} y={36}>30分</Txt>
      <Txt x={243} y={36}>60分</Txt>
      <Txt x={306} y={36}>周线</Txt>
      <Txt x={368} y={36}>月线</Txt>
      <Txt x={436} y={36}>更多</Txt>
      <Caret x={488} y={32} />
      <Txt x={2502} y={36}>交易特色</Txt>
      <Caret x={2594} y={32} />
      <Txt x={2633} y={36}>九阶反转</Txt>
      <div style={{ position: "absolute", left: 2720, top: 24, width: 19, height: 24, background: "#333", borderRadius: "4px 4px 9px 9px", color: "#fff", fontSize: 15, fontFamily: FONT, textAlign: "center", lineHeight: "22px" }}>9</div>
      <Txt x={2762} y={36}>前复权</Txt>
      <Caret x={2823} y={32} />
      <Txt x={2859} y={36}>超级叠加</Txt>
      <Caret x={2943} y={32} />
      <Txt x={2978} y={36}>画线</Txt>
      <Txt x={3041} y={36}>F10</Txt>
      <div style={{ position: "absolute", left: 3090, top: 21, width: 90, height: 30, background: "#1c6fe0", borderRadius: "3px 0 0 3px", color: "#fff", fontSize: 20, fontFamily: FONT, textAlign: "center", lineHeight: "29px" }}>+自选</div>
      <div style={{ position: "absolute", left: 3182, top: 21, width: 25, height: 30, background: "#1c6fe0", borderRadius: "0 3px 3px 0" }} />
      <Caret x={3189} y={32} c="#fff" />
      <Toggle x={3230} />

      {/* main title */}
      <Txt x={11} y={77}>上证指数</Txt>
      <svg style={{ position: "absolute", left: 113, top: 66 }} width={24} height={24}>
        <circle cx="12" cy="12" r="10" fill="#f2f6fa" stroke="#c5d0da" strokeWidth="2" />
        <path d="M7 10 L17 10 L12 16 Z" fill="#223" />
      </svg>
      <Txt x={152} y={77} c="#888">智能辅助</Txt>
      <Txt x={242} y={77} c="#e08a10">HHJSJDB:3144.79</Txt>
      <Txt x={421} y={77} c="#f0532a">HHJSJDC:3166.40</Txt>
      <Txt x={598} y={77} c="#e08a10">乖离率:-2.975</Txt>
      <PanelIcons y={77} />

      {/* volume title */}
      <Txt x={11} y={1101} c="#666">VOL(5,10,20)</Txt>
      <Txt x={151} y={1101} c="#222">262698624</Txt>
      <Txt x={270} y={1101} c="#e08a10">MA1:235955808</Txt>
      <Txt x={438} y={1101} c="#ff19ff">MA2:260191024</Txt>
      <Txt x={608} y={1101} c="#0aa828">MA3:276443968</Txt>
      <Txt x={3057} y={1101} c="#666">VOL</Txt>
      <PanelIcons y={1101} />
      <Txt x={3195} y={1400} c="#333">X亿</Txt>

      {/* oscillator title */}
      <Txt x={11} y={1433} c="#666">捕捞季节</Txt>
      <Txt x={102} y={1433} c="#e08a10">X1:-0.469</Txt>
      <Txt x={203} y={1433} c="#ff19ff">X2:-0.491</Txt>
      <Txt x={305} y={1433} c="#0aa828">彩柱数:0.000</Txt>
      <Txt x={3017} y={1433} c="#666">捕捞季节</Txt>
      <PanelIcons y={1433} />
      <Txt x={3211} y={1765} c="#666">日线</Txt>
    </div>
  );
}
